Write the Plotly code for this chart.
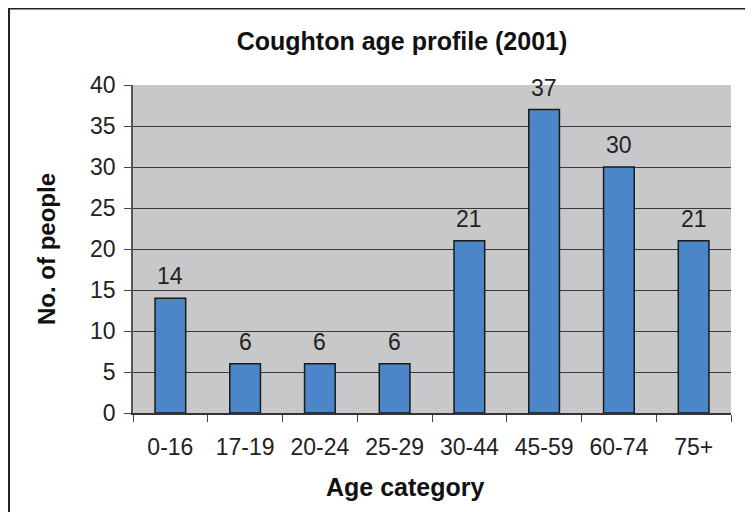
import plotly.graph_objects as go

categories = ["0-16", "17-19", "20-24", "25-29", "30-44", "45-59", "60-74", "75+"]
values = [14, 6, 6, 6, 21, 37, 30, 21]
y_ticks = [0, 5, 10, 15, 20, 25, 30, 35, 40]

FONT = "Liberation Sans, Arial, sans-serif"

W, H = 745, 504
L, R, T, B = 125, 22, 77, 99
PW, PH = W - L - R, H - T - B

fig = go.Figure()
fig.add_trace(go.Bar(
    x=categories, y=values,
    marker=dict(color="#4A86C8", line=dict(color="#1a1a1a", width=1.5)),
    hoverinfo="skip",
))

for c, v in zip(categories, values):
    fig.add_annotation(x=c, y=v, text=str(v), showarrow=False,
                       yanchor="bottom", yshift=7,
                       font=dict(family=FONT, size=23, color="#222"))

# x-axis title (offset left of plot centre, as in the original)
fig.add_annotation(xref="paper", yref="paper", x=(397 - L) / PW, y=(PH + T - 479) / PH,
                   text="<b>Age category</b>", showarrow=False,
                   xanchor="center", yanchor="middle",
                   font=dict(family=FONT, size=25, color="#111"))

fig.update_layout(
    width=W, height=H,
    margin=dict(l=L, r=R, t=T, b=B),
    paper_bgcolor="white",
    plot_bgcolor="#C8C8CA",
    bargap=0.59,
    showlegend=False,
    title=dict(text="<b>Coughton age profile (2001)</b>", xref="container", x=394/W, xanchor="center",
               yref="container", y=1 - 33/H, yanchor="middle",
               font=dict(family=FONT, size=25, color="#111")),
    font=dict(family=FONT, color="#222"),
    shapes=[dict(type="rect", xref="paper", yref="paper",
                 x0=(1 - L)/PW, x1=2, y0=-1, y1=(PH + T - 0.5)/PH,
                 line=dict(color="#222", width=2), fillcolor="rgba(0,0,0,0)", layer="below")],
)

fig.update_xaxes(
    type="category",
    tickson="boundaries", ticks="outside", ticklen=7, tickcolor="#444",
    showline=True, linecolor="#333", linewidth=1.5,
    tickfont=dict(family=FONT, size=23, color="#222"),
    ticklabelstandoff=13,
    showgrid=False,
)
fig.update_yaxes(
    range=[0, 40], tickvals=y_ticks,
    ticks="outside", ticklen=7, tickcolor="#444",
    showline=True, linecolor="#555", linewidth=1.5,
    showgrid=True, gridcolor="#3a3a3a", gridwidth=1,
    tickfont=dict(family=FONT, size=23, color="#222"),
    ticklabelstandoff=4,
    title=dict(text="<b>No. of people</b>", font=dict(family=FONT, size=24, color="#111"), standoff=28),
    zeroline=False,
)

fig.write_html("out.html")
